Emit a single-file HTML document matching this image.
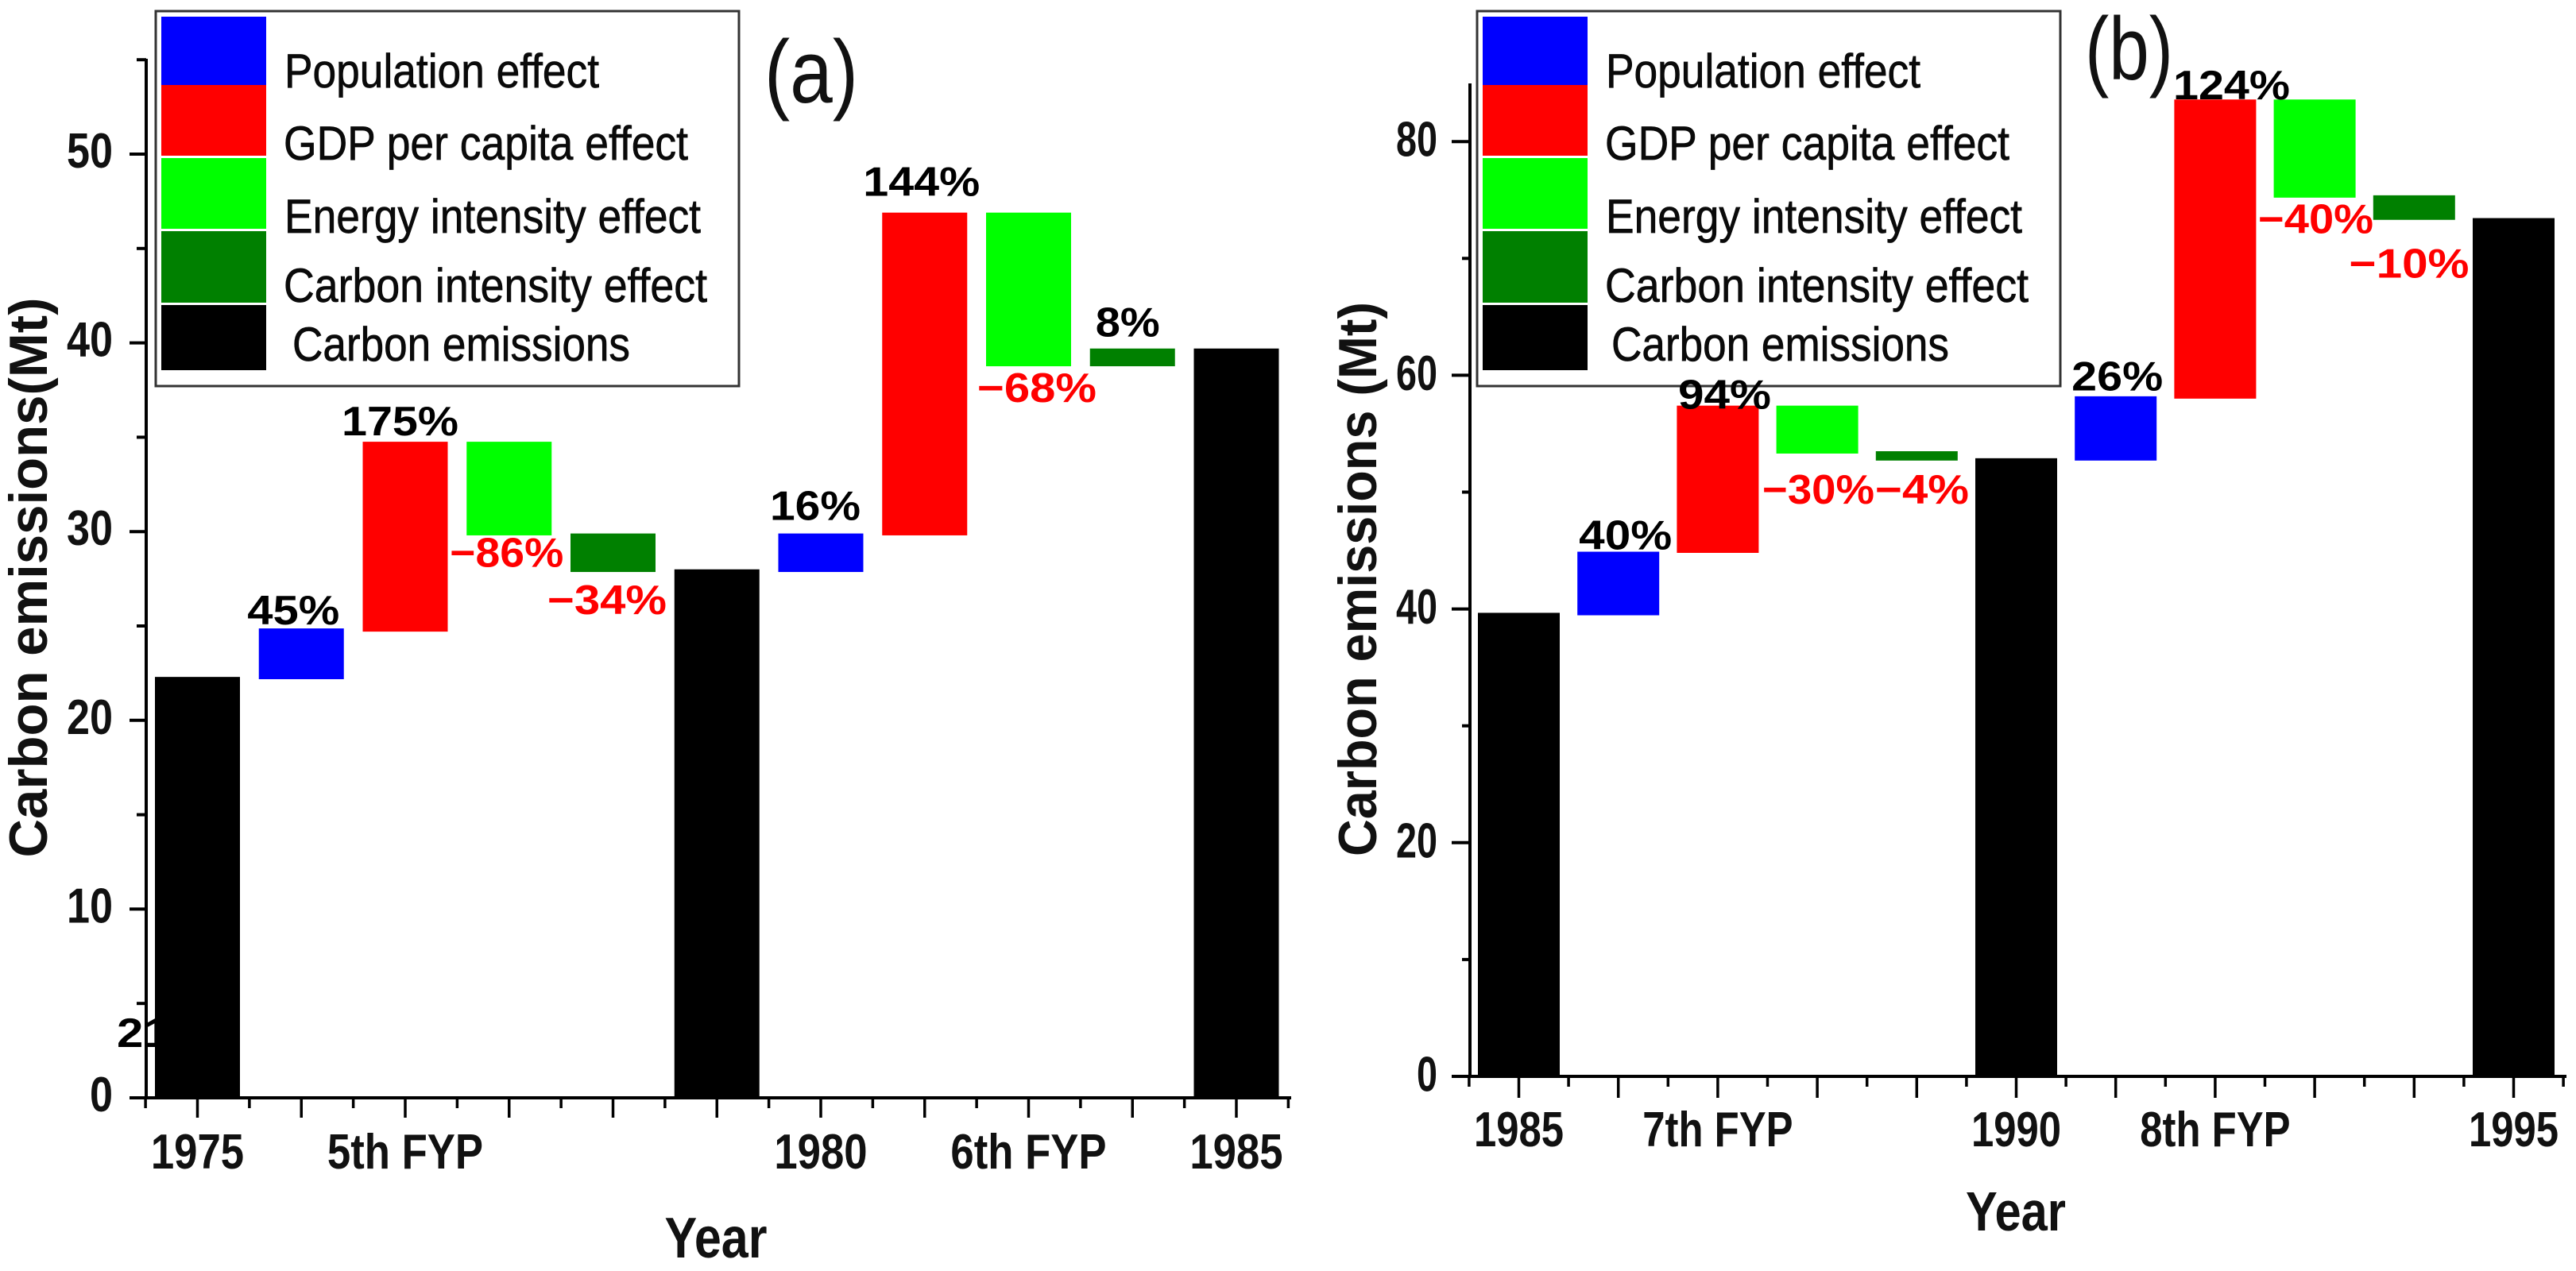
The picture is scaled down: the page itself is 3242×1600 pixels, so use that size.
<!DOCTYPE html>
<html lang="en">
<head>
<meta charset="utf-8">
<title>Carbon emissions decomposition</title>
<style>
html,body{margin:0;padding:0;background:#fff;width:3242px;height:1600px;overflow:hidden}
svg{display:block;font-family:"Liberation Sans",Arial,sans-serif}
.legend-text{font-size:60px;fill:#0a0a0a;stroke:#0a0a0a;stroke-width:.7px}
.axis-title{font-weight:700;fill:#111}
</style>
</head>
<body>
<svg id="chart" xmlns="http://www.w3.org/2000/svg" width="3242" height="1600" viewBox="0 0 3242 1600">
  <rect x="0" y="0" width="3242" height="1600" fill="#fff"/>
  <g id="panel-a"></g>
  <g id="panel-b"></g>

  <text class="axis-title" font-size="68" text-anchor="middle" textLength="705" lengthAdjust="spacingAndGlyphs" transform="translate(59 727) rotate(-90)">Carbon emissions(Mt)</text>
  <text class="axis-title" font-size="68" text-anchor="middle" textLength="698" lengthAdjust="spacingAndGlyphs" transform="translate(1732 729) rotate(-90)">Carbon emissions (Mt)</text>
  <text class="axis-title" font-size="72" text-anchor="middle" textLength="129" lengthAdjust="spacingAndGlyphs" x="901" y="1583">Year</text>
  <text class="axis-title" font-size="70" text-anchor="middle" textLength="126" lengthAdjust="spacingAndGlyphs" x="2537" y="1549">Year</text>
  <text font-size="112" fill="#111" textLength="118" lengthAdjust="spacingAndGlyphs" x="962" y="129">(a)</text>
  <text font-size="112" fill="#111" textLength="111" lengthAdjust="spacingAndGlyphs" x="2624" y="100">(b)</text>

  <g>
    <rect x="196" y="14" width="734" height="472" fill="#fff" stroke="#333" stroke-width="3"/>
    <rect x="203" y="21" width="132" height="86" fill="#0000ff"/>
    <rect x="203" y="107" width="132" height="89" fill="#ff0000"/>
    <rect x="203" y="199" width="132" height="89" fill="#00ff00"/>
    <rect x="203" y="291" width="132" height="90" fill="#008000"/>
    <rect x="203" y="384" width="132" height="82" fill="#000"/>
    <text class="legend-text" x="358" y="110" textLength="396" lengthAdjust="spacingAndGlyphs">Population effect</text>
    <text class="legend-text" x="357" y="201" textLength="509" lengthAdjust="spacingAndGlyphs">GDP per capita effect</text>
    <text class="legend-text" x="358" y="293" textLength="524" lengthAdjust="spacingAndGlyphs">Energy intensity effect</text>
    <text class="legend-text" x="357" y="380" textLength="533" lengthAdjust="spacingAndGlyphs">Carbon intensity effect</text>
    <text class="legend-text" x="368" y="454" textLength="425" lengthAdjust="spacingAndGlyphs">Carbon emissions</text>
  </g>
  <g transform="translate(1663 0)">
    <rect x="196" y="14" width="734" height="472" fill="#fff" stroke="#333" stroke-width="3"/>
    <rect x="203" y="21" width="132" height="86" fill="#0000ff"/>
    <rect x="203" y="107" width="132" height="89" fill="#ff0000"/>
    <rect x="203" y="199" width="132" height="89" fill="#00ff00"/>
    <rect x="203" y="291" width="132" height="90" fill="#008000"/>
    <rect x="203" y="384" width="132" height="82" fill="#000"/>
    <text class="legend-text" x="358" y="110" textLength="396" lengthAdjust="spacingAndGlyphs">Population effect</text>
    <text class="legend-text" x="357" y="201" textLength="509" lengthAdjust="spacingAndGlyphs">GDP per capita effect</text>
    <text class="legend-text" x="358" y="293" textLength="524" lengthAdjust="spacingAndGlyphs">Energy intensity effect</text>
    <text class="legend-text" x="357" y="380" textLength="533" lengthAdjust="spacingAndGlyphs">Carbon intensity effect</text>
    <text class="legend-text" x="365" y="454" textLength="425" lengthAdjust="spacingAndGlyphs">Carbon emissions</text>
  </g>
  <g id="overlay"></g>
</svg>
<script>
// ---- data ----
const barEffects = ['total','population','gdp','energy','carbon','total','population','gdp','energy','carbon','total'];

const aCategories = ['1975','','5th FYP','','','','1980','','6th FYP','','1985'];
const aLow  = [0, 22.18, 24.7, 29.8, 27.86, 0, 27.86, 29.8, 38.76, 38.76, 0];
const aHigh = [22.3, 24.87, 34.76, 34.76, 29.9, 28.0, 29.9, 46.9, 46.9, 39.7, 39.7];
const aPercents = ['', '45%', '175%', '\u221286%', '\u221234%', '', '16%', '144%', '\u221268%', '8%', ''];
const aMajorTicks = [0, 10, 20, 30, 40, 50];
const aMinorTicks = [5, 15, 25, 35, 45, 55];

const bCategories = ['1985','','7th FYP','','','1990','','8th FYP','','','1995'];
const bLow  = [0, 39.46, 44.8, 53.3, 52.7, 0, 52.7, 58.0, 75.2, 73.3, 0];
const bHigh = [39.67, 44.9, 57.4, 57.4, 53.5, 52.9, 58.2, 83.6, 83.6, 75.4, 73.45];
const bPercents = ['', '40%', '94%', '\u221230%', '\u22124%', '', '26%', '124%', '\u221240%', '\u221210%', ''];
const bMajorTicks = [0, 20, 40, 60, 80];
const bMinorTicks = [10, 30, 50, 70];

// ---- shared helpers ----
const SVG_NS = 'http://www.w3.org/2000/svg';
const effectColor = {total:'#000000', population:'#0000ff', gdp:'#ff0000', energy:'#00ff00', carbon:'#008000'};

function make(tag, attrs, parent) {
  const el = document.createElementNS(SVG_NS, tag);
  Object.keys(attrs).forEach(function (k) { el.setAttribute(k, attrs[k]); });
  parent.appendChild(el);
  return el;
}

function drawPanel(group, cfg, categories, low, high, majors, minors) {
  const yScale = function (v) { return cfg.y0 - v * cfg.pxPerUnit; };
  const xScale = function (i) { return cfg.xStart + i * cfg.xStep; };

  // bars
  categories.forEach(function (_, i) {
    const bar = make('rect', {
      x: xScale(i) - cfg.barWidth / 2,
      y: yScale(high[i]),
      width: cfg.barWidth,
      height: yScale(low[i]) - yScale(high[i]),
      fill: effectColor[barEffects[i]]
    }, group);
    
    
  });

  // axis lines
  const yAxis = make('line', {x1: cfg.axisX, x2: cfg.axisX, y1: cfg.axisTop, y2: cfg.y0 + 2, stroke: '#000', 'stroke-width': 4}, group);
  
  
  const xAxis = make('line', {x1: cfg.majorLeft, x2: cfg.axisRight + 2, y1: cfg.y0, y2: cfg.y0, stroke: '#000', 'stroke-width': 4}, group);
  
  

  // y ticks
  majors.forEach(function (v) {
    const tick = make('line', {x1: cfg.majorLeft, x2: cfg.axisX, y1: yScale(v), y2: yScale(v), stroke: '#000', 'stroke-width': 4}, group);
    
    
    const s = String(v);
    const lab = make('text', {
      x: cfg.yLabelRight, y: yScale(v) + cfg.yLabelDy,
      'font-size': cfg.tickFont, 'font-weight': 700, fill: '#111', 'text-anchor': 'end',
      textLength: s.length * cfg.digitWidth, lengthAdjust: 'spacingAndGlyphs'
    }, group);
    lab.textContent = s;
    
    
  });
  minors.forEach(function (v) {
    const tick = make('line', {x1: cfg.minorLeft, x2: cfg.axisX, y1: yScale(v), y2: yScale(v), stroke: '#000', 'stroke-width': 4}, group);
    
    
  });

  // x ticks
  categories.forEach(function (name, i) {
    const tick = make('line', {x1: xScale(i), x2: xScale(i), y1: cfg.y0, y2: cfg.y0 + cfg.majorLen, stroke: '#000', 'stroke-width': 3.5}, group);
    
    
    if (name) {
      const lab = make('text', {
        x: xScale(i), y: cfg.xLabelY,
        'font-size': cfg.tickFont, 'font-weight': 700, fill: '#111', 'text-anchor': 'middle'
      }, group);
      lab.textContent = name;
      
      
      const natural = lab.getComputedTextLength();
      lab.setAttribute('textLength', natural * cfg.xLabelSqueeze);
      lab.setAttribute('lengthAdjust', 'spacingAndGlyphs');
    }
  });
  for (let i = -0.5; i <= categories.length - 0.5; i += 1) {
    const tick = make('line', {x1: xScale(i), x2: xScale(i), y1: cfg.y0, y2: cfg.y0 + cfg.minorLen, stroke: '#000', 'stroke-width': 3.5}, group);
    
    
  }
  return {x: xScale, y: yScale};
}

function drawValue(overlay, scales, percents, low, high, i, edge, dx, dy, width) {
  const isNegative = percents[i].charAt(0) === '\u2212';
  const anchorValue = edge === 'low' ? low[i] : high[i];
  const t = make('text', {
    x: scales.x(i) + dx, y: scales.y(anchorValue) + dy,
    'font-size': 52, 'font-weight': 700,
    fill: isNegative ? '#ff0000' : '#000', 'text-anchor': 'middle',
    textLength: width, lengthAdjust: 'spacingAndGlyphs'
  }, overlay);
  t.textContent = percents[i];
  
  
}

// ---- panel layout ----
const groupA = document.getElementById('panel-a');
const groupB = document.getElementById('panel-b');
const overlay = document.getElementById('overlay');

// partially hidden label behind the first bar in panel (a)
const hiddenLabel = make('text', {x: 147, y: 1318, 'font-size': 52, 'font-weight': 700, fill: '#000', textLength: 120, lengthAdjust: 'spacingAndGlyphs'}, groupA);
hiddenLabel.textContent = '21%';



const scalesA = drawPanel(groupA, {
  y0: 1382, pxPerUnit: 23.76, xStart: 248.5, xStep: 130.75, barWidth: 107,
  axisX: 184, axisTop: 74, axisRight: 1623, majorLeft: 163, minorLeft: 172,
  majorLen: 25, minorLen: 13, yLabelRight: 142, yLabelDy: 17, digitWidth: 29,
  tickFont: 62, xLabelY: 1471, xLabelSqueeze: 0.85
}, aCategories, aLow, aHigh, aMajorTicks, aMinorTicks);

const scalesB = drawPanel(groupB, {
  y0: 1355, pxPerUnit: 14.71, xStart: 1911.5, xStep: 125.2, barWidth: 103,
  axisX: 1850, axisTop: 105, axisRight: 3228, majorLeft: 1827, minorLeft: 1840,
  majorLen: 27, minorLen: 13, yLabelRight: 1809, yLabelDy: 18.5, digitWidth: 26,
  tickFont: 62, xLabelY: 1443, xLabelSqueeze: 0.82
}, bCategories, bLow, bHigh, bMajorTicks, bMinorTicks);

drawValue(overlay, scalesA, aPercents, aLow, aHigh, 1, 'high', -10, -5, 116);
drawValue(overlay, scalesA, aPercents, aLow, aHigh, 2, 'high', -6.5, -8, 147);
drawValue(overlay, scalesA, aPercents, aLow, aHigh, 3, 'low', -3, 39.5, 143);
drawValue(overlay, scalesA, aPercents, aLow, aHigh, 4, 'low', -7.5, 53, 150);
drawValue(overlay, scalesA, aPercents, aLow, aHigh, 6, 'high', -7, -17, 114);
drawValue(overlay, scalesA, aPercents, aLow, aHigh, 7, 'high', -4, -21, 147);
drawValue(overlay, scalesA, aPercents, aLow, aHigh, 8, 'low', 10.5, 45, 150);
drawValue(overlay, scalesA, aPercents, aLow, aHigh, 9, 'high', -6, -15, 81);

drawValue(overlay, scalesB, bPercents, bLow, bHigh, 1, 'high', 9, -3, 117);
drawValue(overlay, scalesB, bPercents, bLow, bHigh, 2, 'high', 8.6, 4, 117);
drawValue(overlay, scalesB, bPercents, bLow, bHigh, 3, 'low', 1.4, 63, 141);
drawValue(overlay, scalesB, bPercents, bLow, bHigh, 4, 'low', 6.7, 54, 118);
drawValue(overlay, scalesB, bPercents, bLow, bHigh, 6, 'high', 2, -7.5, 115);
drawValue(overlay, scalesB, bPercents, bLow, bHigh, 7, 'high', 20.6, 0, 147);
drawValue(overlay, scalesB, bPercents, bLow, bHigh, 8, 'low', 1.4, 44.5, 145);
drawValue(overlay, scalesB, bPercents, bLow, bHigh, 9, 'low', -6.3, 72.5, 151);
</script>
</body>
</html>
